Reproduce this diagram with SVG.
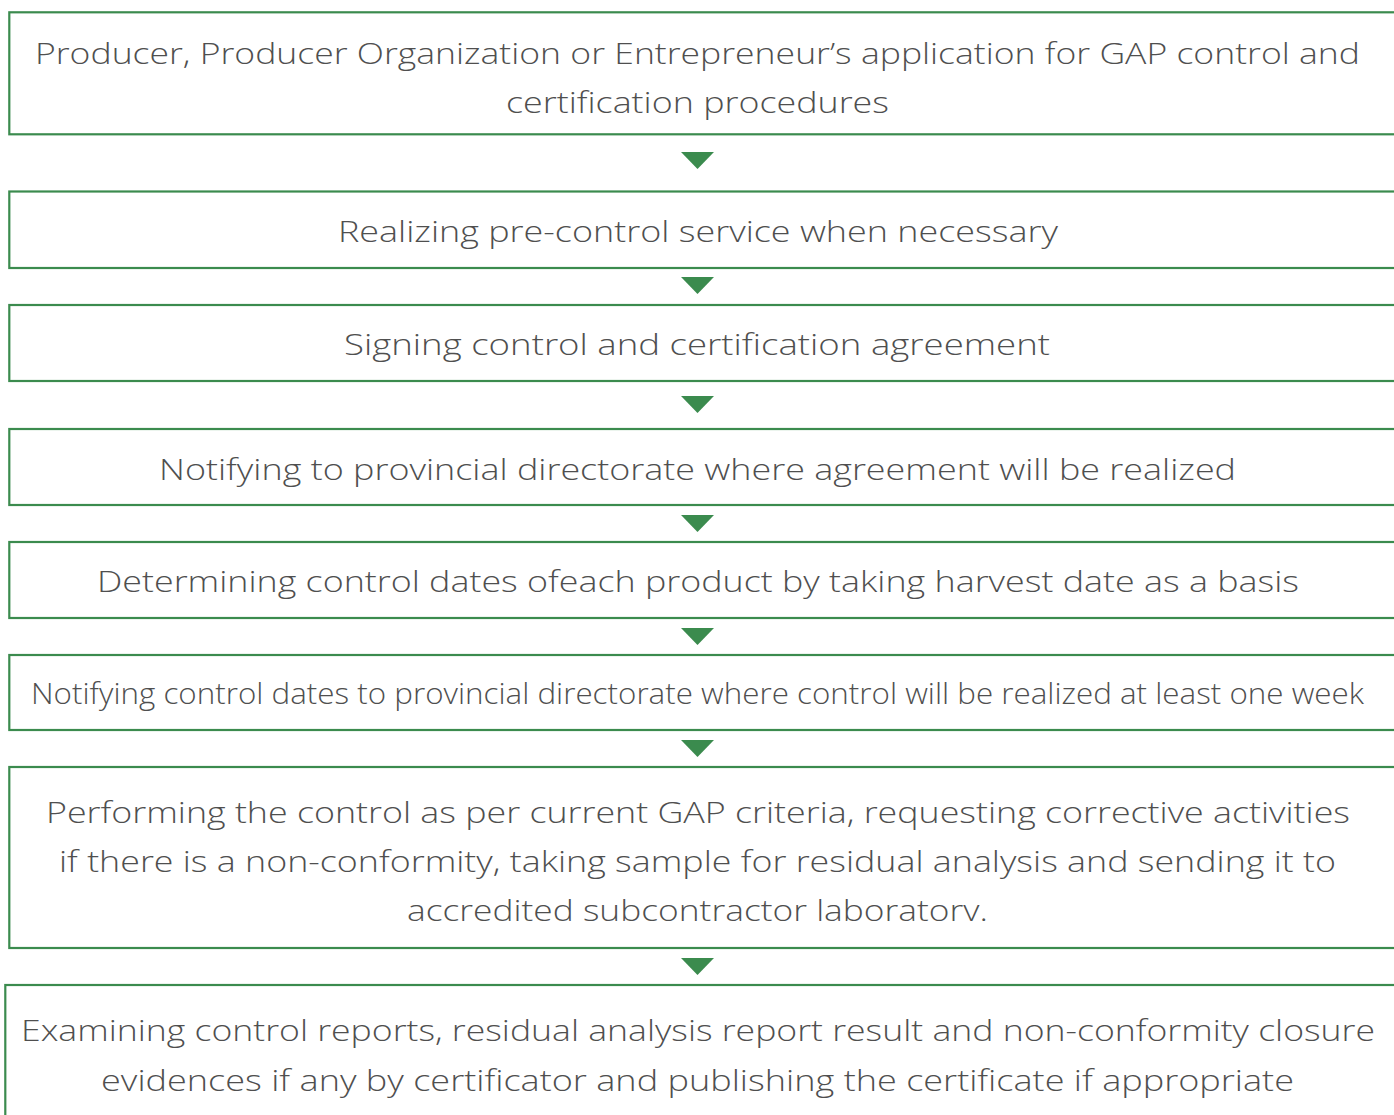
<svg xmlns="http://www.w3.org/2000/svg" width="1394" height="1115" viewBox="0 0 1394 1115">
  <defs>
    <style>
      .box { fill: #ffffff; stroke: #3b8b4e; stroke-width: 2.2; }
      .arrow { fill: #3b8b4e; }
      .label { font-family: "Open Sans", "Liberation Sans", sans-serif; font-size: 30px; font-weight: 300; fill: #4f4f4f; text-anchor: middle; }
    </style>
  </defs>
  <rect width="1394" height="1115" fill="#ffffff"/>

  <!-- flow arrows between steps -->
  <g id="connectors">
    <polygon class="arrow" points="681,152 714,152 697.5,169"/>
    <polygon class="arrow" points="681,277 714,277 697.5,294"/>
    <polygon class="arrow" points="681,396 714,396 697.5,413"/>
    <polygon class="arrow" points="681,515 714,515 697.5,532"/>
    <polygon class="arrow" points="681,628 714,628 697.5,645"/>
    <polygon class="arrow" points="681,740 714,740 697.5,757"/>
    <polygon class="arrow" points="681,958 714,958 697.5,975"/>
  </g>

  <g id="step1">
    <rect class="box" x="9.3" y="12.3" width="1400" height="122"/>
    <text class="label" x="697.5" y="64" textLength="1325" lengthAdjust="spacingAndGlyphs">Producer, Producer Organization or Entrepreneur’s application for GAP control and</text>
    <text class="label" x="697.5" y="113" textLength="383" lengthAdjust="spacingAndGlyphs">certification procedures</text>
  </g>

  <g id="step2">
    <rect class="box" x="9.3" y="191.5" width="1400" height="76.5"/>
    <text class="label" x="698" y="242" textLength="720" lengthAdjust="spacingAndGlyphs">Realizing pre-control service when necessary</text>
  </g>

  <g id="step3">
    <rect class="box" x="9.3" y="305" width="1400" height="76"/>
    <text class="label" x="697" y="355" textLength="706" lengthAdjust="spacingAndGlyphs">Signing control and certification agreement</text>
  </g>

  <g id="step4">
    <rect class="box" x="9.3" y="429" width="1400" height="76"/>
    <text class="label" x="697.5" y="480" textLength="1077" lengthAdjust="spacingAndGlyphs">Notifying to provincial directorate where agreement will be realized</text>
  </g>

  <g id="step5">
    <rect class="box" x="9.3" y="542" width="1400" height="76"/>
    <text class="label" x="698" y="592" textLength="1202" lengthAdjust="spacingAndGlyphs">Determining control dates ofeach product by taking harvest date as a basis</text>
  </g>

  <g id="step6">
    <rect class="box" x="9.3" y="655" width="1400" height="75"/>
    <text class="label" x="697.5" y="704" textLength="1333" lengthAdjust="spacingAndGlyphs">Notifying control dates to provincial directorate where control will be realized at least one week</text>
  </g>

  <g id="step7">
    <rect class="box" x="9.3" y="767" width="1400" height="181"/>
    <text class="label" x="698" y="823" textLength="1304" lengthAdjust="spacingAndGlyphs">Performing the control as per current GAP criteria, requesting corrective activities</text>
    <text class="label" x="697.5" y="872" textLength="1277" lengthAdjust="spacingAndGlyphs">if there is a non-conformity, taking sample for residual analysis and sending it to</text>
    <text class="label" x="697.5" y="921" textLength="581" lengthAdjust="spacingAndGlyphs">accredited subcontractor laboratorv.</text>
  </g>

  <g id="step8">
    <rect class="box" x="5.3" y="985" width="1400" height="200"/>
    <text class="label" x="698" y="1041" textLength="1354" lengthAdjust="spacingAndGlyphs">Examining control reports, residual analysis report result and non-conformity closure</text>
    <text class="label" x="697.5" y="1091" textLength="1193" lengthAdjust="spacingAndGlyphs">evidences if any by certificator and publishing the certificate if appropriate</text>
  </g>
</svg>
